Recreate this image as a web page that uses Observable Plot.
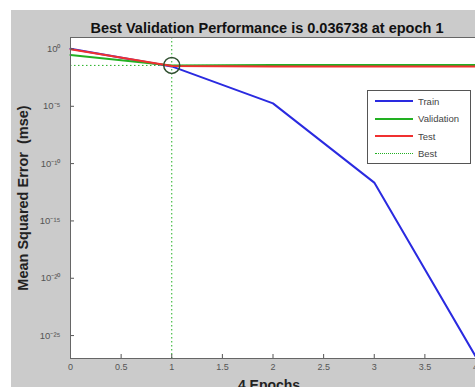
<!DOCTYPE html>
<html>
<head>
<meta charset="utf-8">
<script src="https://cdn.jsdelivr.net/npm/d3@7"></script>
<script src="https://cdn.jsdelivr.net/npm/@observablehq/plot@0.6"></script>
<style>
  body { margin: 0; font-family: "Liberation Sans", Arial, sans-serif; }
  #wrap { position: relative; width: 475px; height: 387px; background: #fff; overflow: hidden; }
  #bg { position: absolute; left: 11px; top: 10px; width: 464px; height: 377px; background: #cbcbcb; }
  #chart { position: absolute; left: 0; top: 0; }
  #legend { position: absolute; left: 367px; top: 90px; width: 104px; height: 74px; background: #fff; border: 1px solid #555; box-sizing: border-box; font-size: 9.5px; color: #444; }
  .row { position: absolute; left: 7px; height: 12px; display: flex; align-items: center; }
  .sw { width: 38px; height: 0; margin-right: 5px; }
</style>
</head>
<body>
<div id="wrap"><div id="bg"></div><div id="chart"></div><div id="legend"></div></div>
<script>
const epochs = [0, 1, 2, 3, 4];
const train = [1.05, 0.03, 1.8e-5, 2.2e-12, 1.6e-27];
const validation = [0.3, 0.036738, 0.04, 0.04, 0.04];
const test = [0.95, 0.032, 0.03, 0.03, 0.03];
const bestEpoch = 1;
const bestPerf = 0.036738;
const seriesNames = ["Train", "Validation", "Test", "Best"];
const seriesColors = ["#2a2ae0", "#22b022", "#f03030", "#22b022"];
const xTicks = [0, 0.5, 1, 1.5, 2, 2.5, 3, 3.5, 4];
const yTicks = [1e0, 1e-5, 1e-10, 1e-15, 1e-20, 1e-25];
const yTickLabels = ["10⁰", "10⁻⁵", "10⁻¹⁰", "10⁻¹⁵", "10⁻²⁰", "10⁻²⁵"];
const titleText = "Best Validation Performance is 0.036738 at epoch 1";
const yLabel = "Mean Squared Error  (mse)";
const xLabel = "4 Epochs";

const rows = (vals) => epochs.map((e, i) => ({epoch: e, v: vals[i]}));
const yLabelFor = (d) => yTickLabels[yTicks.findIndex(t => Math.abs(Math.log10(t) - Math.log10(d)) < 1e-6)];

const W = 475, H = 387, mL = 70, mT = 37, mB = 29, mR = 0;

const chart = Plot.plot({
  width: W, height: H,
  marginLeft: mL, marginTop: mT, marginBottom: mB, marginRight: mR,
  style: {background: "transparent", overflow: "visible", fontFamily: "Liberation Sans, Arial, sans-serif"},
  x: {domain: [0, 4], axis: null},
  y: {type: "log", domain: [1e-27, 10], axis: null},
  marks: [
    Plot.frame({fill: "white", stroke: null}),
    Plot.ruleX([bestEpoch], {stroke: seriesColors[3], strokeWidth: 1, strokeDasharray: "1.5,2.5"}),
    Plot.ruleY([bestPerf], {stroke: seriesColors[3], strokeWidth: 1, strokeDasharray: "1.5,2.5"}),
    Plot.line(rows(train), {x: "epoch", y: "v", stroke: seriesColors[0], strokeWidth: 2}),
    Plot.line(rows(validation), {x: "epoch", y: "v", stroke: seriesColors[1], strokeWidth: 2}),
    Plot.line(rows(test), {x: "epoch", y: "v", stroke: seriesColors[2], strokeWidth: 2}),
    Plot.dot([{epoch: bestEpoch, v: bestPerf}], {x: "epoch", y: "v", r: 8, stroke: "#2f4f2f", strokeWidth: 1.5, fill: "none"}),
    Plot.tickX(xTicks, {x: d => d, insetTop: H - mT - mB - 4, stroke: "#555"}),
    Plot.tickY(yTicks, {y: d => d, insetRight: W - mL - mR - 4, stroke: "#555"}),
    Plot.text(xTicks, {x: d => d, text: d => String(d), frameAnchor: "bottom", lineAnchor: "top", dy: 5, fontSize: 9, fill: "#555"}),
    Plot.text(yTicks, {y: d => d, text: yLabelFor, frameAnchor: "left", textAnchor: "end", dx: -10, fontSize: 9.5, fill: "#555"}),
    Plot.frame({stroke: "#666", strokeWidth: 1}),
    Plot.text([titleText], {frameAnchor: "top", dy: -15, dx: -6, fontSize: 14.5, fontWeight: "bold", fill: "#111"}),
    Plot.text([yLabel], {frameAnchor: "left", textAnchor: "middle", rotate: -90, dx: -47, fontSize: 14.5, fontWeight: "bold", fill: "#222"}),
    Plot.text([xLabel], {frameAnchor: "bottom", dy: 31, dx: -4, fontSize: 14, fontWeight: "bold", fill: "#222"})
  ]
});
document.getElementById("chart").appendChild(chart);

const legend = document.getElementById("legend");
const styles = ["2px solid", "2px solid", "2px solid", "1px dotted"];
seriesNames.forEach((name, i) => {
  const row = document.createElement("div");
  row.className = "row";
  row.style.top = (4 + i * 17.5) + "px";
  const sw = document.createElement("div");
  sw.className = "sw";
  sw.style.borderTop = styles[i] + " " + seriesColors[i];
  const t = document.createElement("span");
  t.textContent = name;
  row.appendChild(sw);
  row.appendChild(t);
  legend.appendChild(row);
});
</script>
</body>
</html>
